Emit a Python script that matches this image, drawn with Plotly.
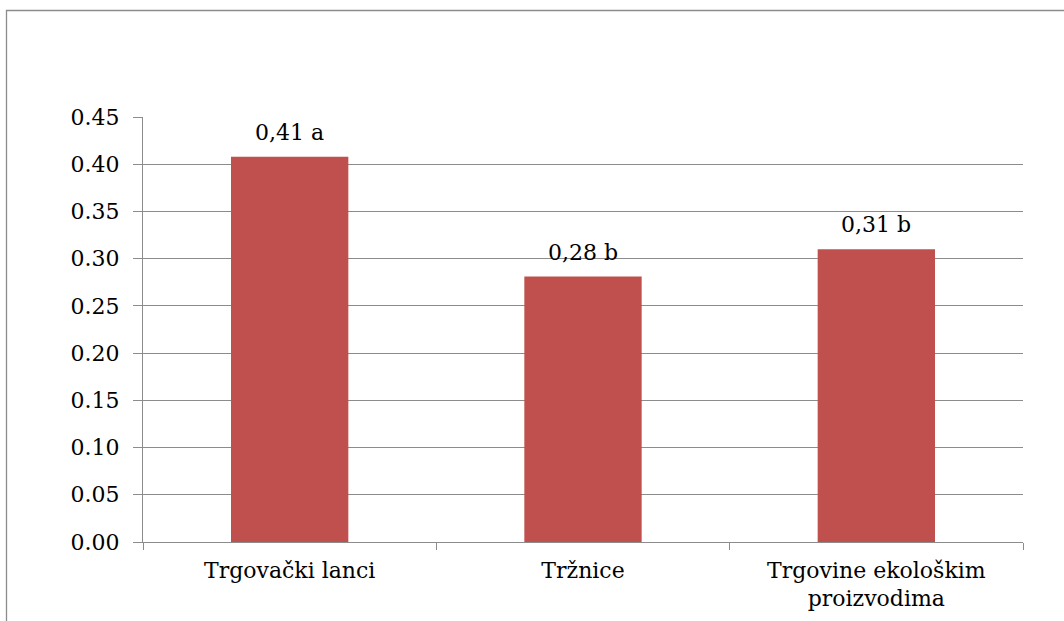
import plotly.graph_objects as go

categories = ["Trgovački lanci", "Tržnice", "Trgovine ekološkim<br>proizvodima"]
values = [0.408, 0.281, 0.31]
labels = ["0,41 a", "0,28 b", "0,31 b"]
y_ticks = [0.00, 0.05, 0.10, 0.15, 0.20, 0.25, 0.30, 0.35, 0.40, 0.45]
y_ticktext = ["%.2f" % v for v in y_ticks]

FONT = "DejaVu Serif, serif"
FS = 22
GRAY = "#8c8c8c"
BAR = "#C0504D"

W, H = 1064, 621
ml, mr, mt, mb = 143, 41, 117, 79
pw, ph = W - ml - mr, H - mt - mb

fig = go.Figure()
fig.add_trace(go.Bar(
    x=categories, y=values, marker=dict(color=BAR, line=dict(width=0)),
    hoverinfo="skip",
))

for c, v, t in zip(categories, values, labels):
    fig.add_annotation(x=c, y=v, text=t, showarrow=False, yanchor="bottom",
                       yshift=10, font=dict(family=FONT, size=FS, color="#000000"))

fig.add_shape(type="rect", xref="paper", yref="paper",
              x0=(6.5 - ml) / pw, x1=1.3, y0=-0.4, y1=1 + (mt - 10.5) / ph,
              line=dict(color=GRAY, width=1.3), fillcolor="rgba(0,0,0,0)", layer="below")

fig.update_layout(
    template="none",
    width=W, height=H,
    margin=dict(l=ml, r=mr, t=mt, b=mb, pad=0, autoexpand=False),
    paper_bgcolor="white", plot_bgcolor="white",
    bargap=0.6, showlegend=False,
    font=dict(family=FONT, size=FS, color="#000000"),
    xaxis=dict(
        automargin=False,
        showline=True, linecolor=GRAY, linewidth=1.3,
        ticks="outside", tickson="boundaries", ticklen=7, tickcolor=GRAY, tickwidth=1.3,
        showgrid=False, fixedrange=True, ticklabelstandoff=8,
        tickfont=dict(family=FONT, size=FS, color="#000000"),
    ),
    yaxis=dict(
        automargin=False,
        range=[0, 0.45], tickvals=y_ticks, ticktext=y_ticktext,
        showline=True, linecolor=GRAY, linewidth=1.3,
        ticks="outside", ticklen=9, tickcolor=GRAY, tickwidth=1.3,
        showgrid=True, gridcolor=GRAY, gridwidth=1.3,
        zeroline=False, ticklabelstandoff=9, fixedrange=True,
        tickfont=dict(family=FONT, size=FS, color="#000000"),
    ),
)

fig.write_html("out.html", config={"displayModeBar": False},
               post_script="document.body.style.margin='0';document.body.style.padding='0';")
